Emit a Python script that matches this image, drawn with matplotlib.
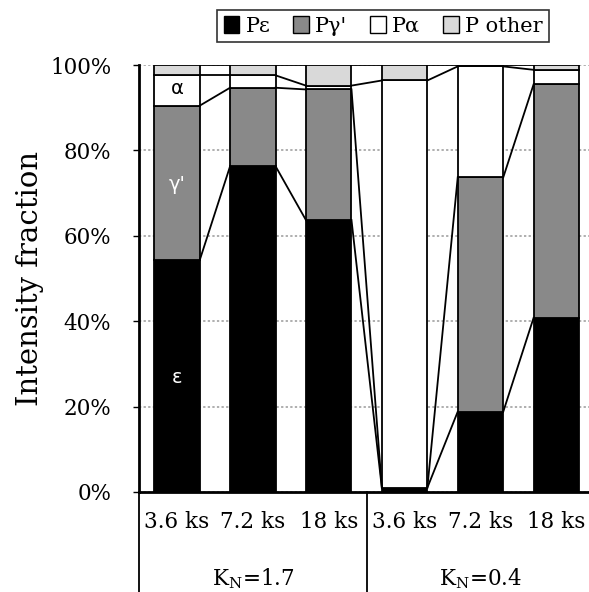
import matplotlib
matplotlib.use("Agg")
import matplotlib.pyplot as plt
from matplotlib.patches import Patch
import numpy as np

# stacked intensity fractions (%) per sample
samples = ["3.6 ks", "7.2 ks", "18 ks", "3.6 ks", "7.2 ks", "18 ks"]
groups = ["K$_\\mathregular{N}$=1.7", "K$_\\mathregular{N}$=0.4"]
p_eps = [54.3, 76.3, 63.7, 1.0, 18.8, 40.8]
p_gam = [36.2, 18.4, 30.6, 0.0, 54.9, 54.7]
p_alpha = [7.1, 2.9, 0.9, 95.4, 26.0, 3.4]
p_other = [2.4, 2.4, 4.8, 3.6, 0.3, 1.1]
yticks = [0, 20, 40, 60, 80, 100]

plt.rcParams['font.family'] = ['DejaVu Serif']
fig = plt.figure(figsize=(5.89, 5.92), dpi=100)
ax = fig.add_axes([0.236, 0.169, 0.764, 0.721])

x = np.arange(len(samples))
w = 0.6
series = [(p_eps, "black", "P\u03b5"), (p_gam, "#898989", "P\u03b3'"),
          (p_alpha, "white", "P\u03b1"), (p_other, "#d9d9d9", "P other")]
bottom = np.zeros(len(samples))
tops = []
for vals, col, lab in series:
    vals = np.array(vals)
    ax.bar(x, vals, w, bottom=bottom, color=col, edgecolor="black", linewidth=1.3, zorder=3)
    bottom = bottom + vals
    tops.append(bottom.copy())

# series lines between neighbouring bars
for t in tops:
    for i in range(len(samples) - 1):
        ax.plot([x[i] + w / 2, x[i + 1] - w / 2], [t[i], t[i + 1]], color="black", lw=1.3, zorder=4)

ax.set_xlim(-0.5, 5.43)
ax.set_ylim(0, 100)
ax.set_yticks(yticks)
ax.set_yticklabels([f"{v}%" for v in yticks], fontsize=15.5)
ax.yaxis.grid(True, linestyle=(0, (1.5, 1.5)), color="#999999", linewidth=1.1, zorder=0)
ax.set_xticks([])
ax.tick_params(axis="y", direction="out", length=4, width=1, pad=16)
for s in ["top", "right"]:
    ax.spines[s].set_visible(False)
ax.spines["left"].set_linewidth(2)
ax.spines["bottom"].set_linewidth(2)
ax.set_ylabel("Intensity fraction", fontsize=21, labelpad=4)

# category labels below axis
for i, s in enumerate(samples):
    ax.text(x[i], -7, s, ha="center", va="center", fontsize=15.5, clip_on=False)
for g, lab in enumerate(groups):
    ax.text(1 + 3 * g, -20.3, lab, ha="center", va="center", fontsize=15.5, clip_on=False)
for xs in [-0.5, 2.5, 5.5]:
    ax.plot([xs, xs], [0, -25], color="black", lw=1.3, clip_on=False)

# phase labels in first bar
ax.text(0, 94.6, "\u03b1", ha="center", va="center", fontsize=14, family="DejaVu Sans", zorder=5)
ax.text(0, 72, "\u03b3'", ha="center", va="center", fontsize=14, color="white", family="DejaVu Sans", zorder=5)
ax.text(0, 26.7, "\u03b5", ha="center", va="center", fontsize=14, color="white", family="DejaVu Sans", zorder=5)

handles = [Patch(facecolor=c, edgecolor="black", linewidth=1, label=l) for _, c, l in series]
leg = fig.legend(handles=handles, loc="center", bbox_to_anchor=(383 / 589, 1 - 26 / 592), ncol=4,
                 fontsize=15, frameon=True, fancybox=False, edgecolor="black",
                 handlelength=0.75, handleheight=0.9, handletextpad=0.3, columnspacing=1.1,
                 borderpad=0.3, borderaxespad=0)
leg.get_frame().set_linewidth(1.2)

fig.savefig("out.png", dpi=100)
